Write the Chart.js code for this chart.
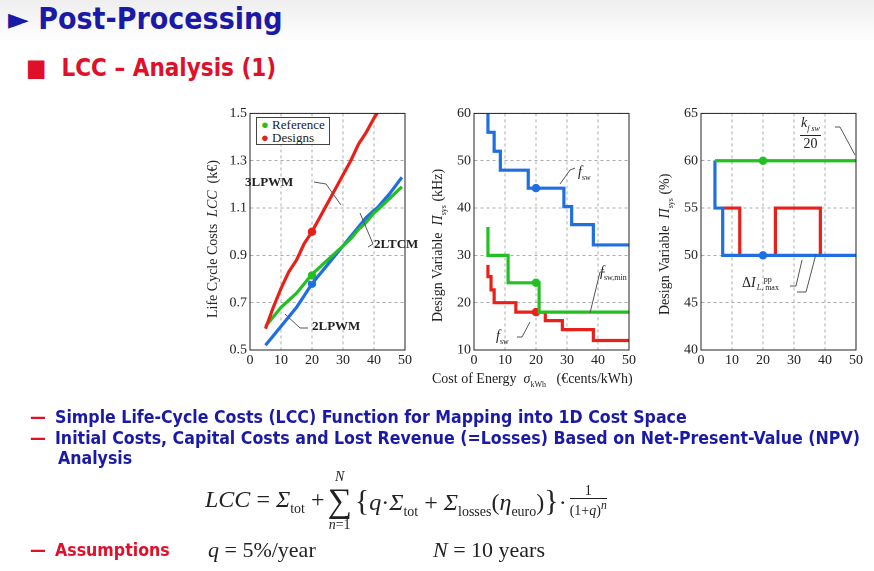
<!DOCTYPE html>
<html><head><meta charset="utf-8">
<script src="https://cdn.jsdelivr.net/npm/chart.js@4"></script>
<style>
body{margin:0;width:874px;height:571px;background:#fff;position:relative;overflow:hidden;font-family:"DejaVu Sans Condensed","DejaVu Sans",sans-serif}
.a{position:absolute;white-space:nowrap}
.s{font-family:"Liberation Serif",serif;color:#222}
.b{color:#1a1aa6;font-weight:bold;font-size:17.6px}
.r{color:#e0102a;font-weight:bold;font-size:17.6px}
canvas{position:absolute}
.st{display:inline-flex;flex-direction:column;align-items:center;vertical-align:middle;line-height:1}
</style></head><body>
<div class="a" style="left:0;top:0;width:874px;height:42px;background:linear-gradient(#eee,#fff)"></div>
<div class="a" style="left:8px;top:1px;font-size:30px;font-weight:bold;color:#1a1aa6">► Post-Processing</div>
<div class="a r" style="left:26px;top:54px;font-size:24px">■ &nbsp;LCC – Analysis (1)</div>

<canvas id="c1"></canvas><canvas id="c2"></canvas><canvas id="c3"></canvas>

<div class="a s" style="left:205px;top:318px;transform:rotate(-90deg);transform-origin:0 0;font-size:14px">Life Cycle Costs &nbsp;<i>LCC</i> &nbsp;(k€)</div>
<div class="a s" style="left:430px;top:322px;transform:rotate(-90deg);transform-origin:0 0;font-size:14px">Design Variable &nbsp;<i>Π</i><sub style="font-size:8px">sys</sub> (kHz)</div>
<div class="a s" style="left:657px;top:315px;transform:rotate(-90deg);transform-origin:0 0;font-size:14px">Design Variable &nbsp;<i>Π</i><sub style="font-size:8px">sys</sub> (%)</div>
<div class="a s" style="left:432px;top:371px;font-size:14px">Cost of Energy &nbsp;<i>σ</i><sub style="font-size:8px">kWh</sub> &nbsp;&nbsp;(€cents/kWh)</div>

<div class="a s" style="left:256px;top:117px;border:1px solid #444;padding:0 4px;font-size:13px;line-height:13px;background:#fff">
<span style="color:#22c020">●</span> Reference<br><span style="color:#e02020">●</span> Designs</div>
<div class="a s" style="left:245px;top:174px;font-size:13px;font-weight:bold">3LPWM</div>
<div class="a s" style="left:374px;top:236px;font-size:13px;font-weight:bold">2LTCM</div>
<div class="a s" style="left:312px;top:318px;font-size:13px;font-weight:bold">2LPWM</div>
<div class="a s" style="left:578px;top:164px;font-size:14px"><i>f</i><sub style="font-size:8px">sw</sub></div>
<div class="a s" style="left:600px;top:264px;font-size:14px"><i>f</i><sub style="font-size:8px">sw,min</sub></div>
<div class="a s" style="left:496px;top:328px;font-size:14px"><i>f</i><sub style="font-size:8px">sw</sub></div>
<div class="a s" style="left:800px;top:115px;font-size:14px;text-align:center;line-height:15px"><i>k<sub style="font-size:8px">f sw</sub></i><br><span style="border-top:1px solid #222">&nbsp;20&nbsp;</span></div>
<div class="a s" style="left:742px;top:275px;font-size:14px">Δ<i>I</i><span class="st" style="font-size:8px;margin-left:1px"><span>pp</span><span><i>L</i>, max</span></span></div>

<svg class="a" style="left:0;top:0" width="874" height="571">
<g stroke="#555" fill="none" stroke-width="1">
<polyline points="314,182 326,184 341,205"/>
<polyline points="368,247 373,244 360,213"/>
<polyline points="308,328 300,328 285,314"/>
<polyline points="575,168 570,170 560,184"/>
<polyline points="605,272 600,272 590,313"/>
<polyline points="517,337 522,337 530,322"/>
<polyline points="835,127 840,127 855,155"/>
<polyline points="790,286 796,286 802,260"/>
<polyline points="797,292 806,292 816,254"/>
</g></svg>

<div class="a" style="left:30px;top:407px"><span class="r">—</span> &nbsp;<span class="b">Simple Life-Cycle Costs (LCC) Function for Mapping into 1D Cost Space</span></div>
<div class="a" style="left:30px;top:428px"><span class="r">—</span> &nbsp;<span class="b">Initial Costs, Capital Costs and Lost Revenue (=Losses) Based on Net-Present-Value (NPV)</span></div>
<div class="a b" style="left:58px;top:448px">Analysis</div>
<div class="a s" style="left:205px;top:470px;font-size:24px;display:flex;align-items:center;gap:3px">
<span><i>LCC</i> = <i>Σ</i><sub style="font-size:14px">tot</sub> +</span>
<span class="st"><span style="font-size:14px"><i>N</i></span><span style="font-size:34px">∑</span><span style="font-size:14px"><i>n</i>=1</span></span>
<span><span style="font-size:30px">{</span><i>q</i>·<i>Σ</i><sub style="font-size:14px">tot</sub> + <i>Σ</i><sub style="font-size:14px">losses</sub>(<i>η</i><sub style="font-size:14px">euro</sub>)<span style="font-size:30px">}</span>·</span>
<span class="st" style="font-size:14px"><span>1</span><span style="border-top:1px solid #222;padding-top:1px">(1+<i>q</i>)<sup><i>n</i></sup></span></span>
</div>
<div class="a" style="left:30px;top:540px"><span class="r">—</span> &nbsp;<span class="r">Assumptions</span></div>
<div class="a s" style="left:208px;top:537px;font-size:22px"><i>q</i> = 5%/year</div>
<div class="a s" style="left:433px;top:537px;font-size:22px"><i>N</i> = 10 years</div>

<script>
const RED='#e8201a', GREEN='#22c020', BLUE='#1f6fe0';
// chart 1: LCC vs cost of energy
const lccX = [5,7.5,10,12.5,15,17.5,20,22.5,25,27.5,30,32.5,35,37.5,40,41,45,49];
const lcc3LPWM = [0.59,0.68,0.76,0.83,0.88,0.95,1.00,1.06,1.12,1.18,1.24,1.30,1.37,1.42,1.48,1.50,null,null];
const lccRef   = [0.60,0.64,0.68,0.71,0.74,0.78,0.82,0.85,0.88,0.91,0.94,0.97,1.01,1.04,1.08,1.09,1.14,1.19];
const lcc2LPWM = [0.52,0.56,0.60,0.64,0.68,0.73,0.78,0.82,0.86,0.90,0.94,0.98,1.02,1.06,1.09,1.10,1.16,1.23];
const lccDots = [[20,1.00,RED],[20,0.815,GREEN],[20,0.78,BLUE]];
// chart 2: switching frequency (kHz), corner points of step lines
const fBlueX = [4.5,4.5,6.5,6.5,8.5,8.5,17.5,17.5,29,29,31.5,31.5,38.5,38.5,50];
const fBlueY = [60,56,56,52,52,48,48,44.2,44.2,40.3,40.3,36.5,36.5,32.2,32.2];
const fGreenX = [4.5,4.5,11,11,21,21,50];
const fGreenY = [36,30,30,24.2,24.2,18,18];
const fRedX = [4.5,4.5,5.5,5.5,6.5,6.5,13.5,13.5,23,23,28.5,28.5,38.5,38.5,50];
const fRedY = [28,25.5,25.5,22.7,22.7,20,20,18,18,16.2,16.2,14.3,14.3,12,12];
const fDots = [[20,44.2,BLUE],[20,24.2,GREEN],[20,18,RED]];
// chart 3: ripple (%)
const kGreenX = [4.5,50], kGreenY = [60,60];
const kBlueX = [4.5,4.5,7,7,50], kBlueY = [60,55,55,50,50];
const kRed1X = [7,12.5,12.5], kRed1Y = [55,55,50];
const kRed2X = [24,24,38.5,38.5], kRed2Y = [50,55,55,50];
const kDots = [[20,60,GREEN],[20,50,BLUE]];

const zip = (xs, ys) => xs.map((x, i) => ({x, y: ys[i]}));
function line(data, color) {
  return {data, borderColor: color, borderWidth: 3.2, pointRadius: 0, fill: false, tension: 0, spanGaps: false};
}
function dots(list) {
  return list.map(d => ({type: 'scatter', data: [{x: d[0], y: d[1]}], backgroundColor: d[2], borderColor: '#fff', borderWidth: 1.5, pointRadius: 5}));
}
// box around plot area
const frame = {id: 'frame', afterDraw(c) {
  const a = c.chartArea, ctx = c.ctx;
  ctx.save(); ctx.setLineDash([]); ctx.strokeStyle = '#222'; ctx.lineWidth = 1;
  ctx.strokeRect(a.left, a.top, a.right - a.left, a.bottom - a.top); ctx.restore();
}};
const tickFont = {family: 'Liberation Serif', size: 14};
function make(id, left, datasets, yMin, yMax, yStep, yFmt) {
  const cv = document.getElementById(id);
  cv.style.left = (left - 32) + 'px'; cv.style.top = '102px';
  cv.style.width = '196px'; cv.style.height = '272px';
  new Chart(cv, {
    type: 'line',
    data: {datasets},
    plugins: [frame],
    options: {
      responsive: false, animation: false, devicePixelRatio: 2,
      layout: {padding: {top: 8, right: 8, left: 0, bottom: 0}},
      plugins: {legend: {display: false}, tooltip: {enabled: false}},
      scales: {
        x: {type: 'linear', min: 0, max: 50, ticks: {stepSize: 10, color: '#222', font: tickFont, padding: 2},
            grid: {color: '#aaa', tickLength: 0}, border: {dash: [3, 3], color: '#222'},
            afterFit: a => { a.height = 24; }},
        y: {min: yMin, max: yMax, ticks: {stepSize: yStep, color: '#222', font: tickFont, callback: yFmt},
            grid: {color: '#aaa', tickLength: 0}, border: {dash: [3, 3], color: '#222'},
            afterFit: a => { a.width = 32; }}
      }
    }
  });
}

make('c1', 250, [line(zip(lccX, lcc3LPWM), RED), line(zip(lccX, lccRef), GREEN), line(zip(lccX, lcc2LPWM), BLUE), ...dots(lccDots)],
     0.5, 1.5, 0.2, v => v.toFixed(1));
make('c2', 474, [line(zip(fBlueX, fBlueY), BLUE), line(zip(fGreenX, fGreenY), GREEN), line(zip(fRedX, fRedY), RED), ...dots(fDots)],
     10, 60, 10, v => v);
make('c3', 701, [line(zip(kGreenX, kGreenY), GREEN), line(zip(kBlueX, kBlueY), BLUE), line(zip(kRed1X, kRed1Y), RED), line(zip(kRed2X, kRed2Y), RED), ...dots(kDots)],
     40, 65, 5, v => v);
</script>
</body></html>
